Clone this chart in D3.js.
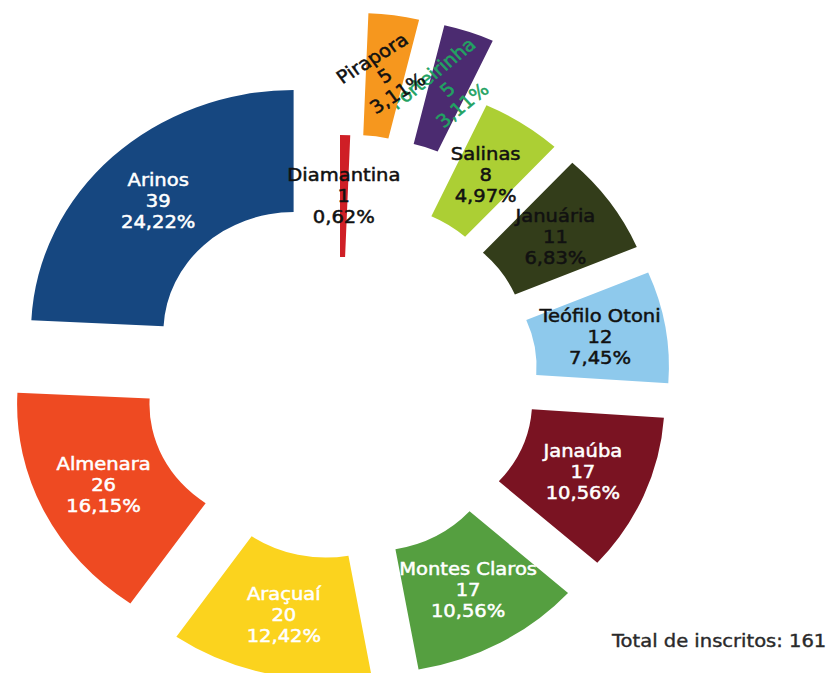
<!DOCTYPE html>
<html>
<head>
<meta charset="utf-8">
<script src="https://cdn.jsdelivr.net/npm/d3@7"></script>
<style>
  html, body { margin: 0; padding: 0; background: #fff; }
  svg { display: block; }
  text { font-family: "DejaVu Sans", sans-serif; }
</style>
</head>
<body>
<div id="chart"></div>
<script>
// data (LibreOffice order: counter-clockwise from 12 o'clock)
const cities = ["Arinos", "Almenara", "Araçuaí", "Montes Claros", "Janaúba", "Teófilo Otoni",
  "Januária", "Salinas", "Porteirinha", "Pirapora", "Diamantina"];
const inscritos = [39, 26, 20, 17, 17, 12, 11, 8, 5, 5, 1];

// styles
const colors = ["#164780", "#ee4a22", "#fbd31e", "#559f40", "#7a1322", "#8ec9ec",
  "#333d1a", "#accf34", "#4b2b70", "#f6971e", "#cf1f26"];
const labelColors = {
  "Arinos": "#fff", "Almenara": "#fff", "Araçuaí": "#fff", "Montes Claros": "#fff", "Janaúba": "#fff",
  "Porteirinha": "#22a262"
};
const explode = { "Diamantina": 0, "Pirapora": 123, "Porteirinha": 123 };
const labelRotate = { "Pirapora": -34, "Porteirinha": -41 };

const width = 829, height = 673;
const cx = 340, cy = 377, sx = 1.085;
const r0 = 120, r1 = 242;

const total = d3.sum(inscritos);
const data = cities.map((c, i) => ({ city: c, value: inscritos[i], color: colors[i] }));

const svg = d3.select("#chart").append("svg")
  .attr("width", width)
  .attr("height", height);

const g = svg.append("g")
  .attr("transform", `translate(${cx},${cy}) scale(${sx},1)`);

const pie = d3.pie().sort(null).value(d => d.value)
  .startAngle(0).endAngle(-2 * Math.PI);
const arc = d3.arc().innerRadius(r0).outerRadius(r1);

const arcs = pie(data);

const slice = g.selectAll("g.slice")
  .data(arcs)
  .join("g")
  .attr("class", "slice")
  .attr("transform", d => {
    const e = explode[d.data.city] ?? 62;
    const a = (d.startAngle + d.endAngle) / 2;
    return `translate(${e * Math.sin(a)},${-e * Math.cos(a)})`;
  });

slice.append("path")
  .attr("d", arc)
  .attr("fill", d => d.data.color);

const fmt = v => (v / total * 100).toFixed(2).replace(".", ",") + "%";

const label = slice.append("text")
  .attr("transform", d => {
    const [x, y] = arc.centroid(d);
    const rot = labelRotate[d.data.city] || 0;
    return `translate(${x},${y}) rotate(${rot})`;
  })
  .attr("text-anchor", "middle")
  .attr("font-size", 18)
  .attr("fill", d => labelColors[d.data.city] || "#111")
  .attr("stroke", d => labelColors[d.data.city] || "#111")
  .attr("stroke-width", 0.5);

label.selectAll("tspan")
  .data(d => [d.data.city, d.data.value, fmt(d.data.value)])
  .join("tspan")
  .attr("x", 0)
  .attr("y", (d, i) => (i - 1) * 21)
  .attr("dominant-baseline", "central")
  .text(d => d);

svg.append("g")
  .attr("transform", `translate(612,647) scale(${sx},1)`)
  .append("text")
  .attr("font-size", 18)
  .attr("fill", "#2a2a2a")
  .attr("stroke", "#2a2a2a")
  .attr("stroke-width", 0.4)
  .text(`Total de inscritos: ${total}`);
</script>
</body>
</html>
